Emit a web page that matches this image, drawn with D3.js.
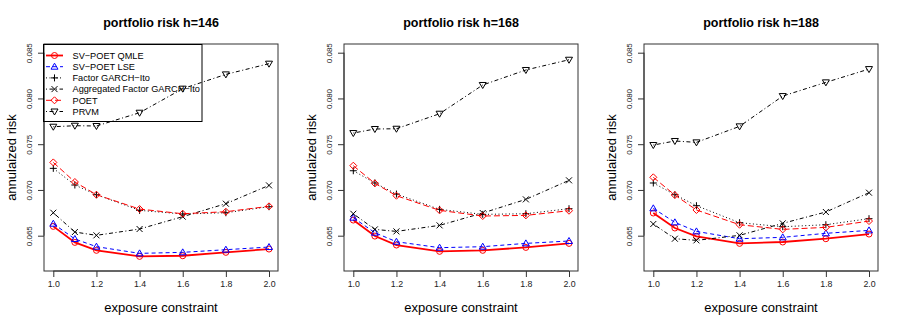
<!DOCTYPE html>
<html>
<head>
<meta charset="utf-8">
<script src="https://cdn.jsdelivr.net/npm/d3@7"></script>
<style>
  body { margin: 0; background: #fff; }
  svg { font-family: "Liberation Sans", Arial, sans-serif; }
</style>
</head>
<body>
<script>
// exposure constraint values on the x axis
var xVals = [1.0, 1.1, 1.2, 1.4, 1.6, 1.8, 2.0];
var xTicks = [1.0, 1.2, 1.4, 1.6, 1.8, 2.0];
var yTicks = [0.065, 0.070, 0.075, 0.080, 0.085];
var horizons = [146, 168, 188];

// one row per panel (h=146, h=168, h=188)
var svQmle = [
    [0.06602, 0.06427, 0.06340, 0.06274, 0.06281, 0.06318, 0.06354],
    [0.06671, 0.06496, 0.06398, 0.06329, 0.06340, 0.06372, 0.06416],
    [0.06748, 0.06584, 0.06493, 0.06416, 0.06431, 0.06467, 0.06518]
];
var svLse = [
    [0.06631, 0.06464, 0.06380, 0.06307, 0.06318, 0.06347, 0.06376],
    [0.06697, 0.06533, 0.06434, 0.06369, 0.06380, 0.06416, 0.06442],
    [0.06799, 0.06646, 0.06547, 0.06467, 0.06482, 0.06526, 0.06558]
];
var factorGarch = [
    [0.07236, 0.07054, 0.06948, 0.06777, 0.06737, 0.06751, 0.06817],
    [0.07210, 0.07076, 0.06955, 0.06788, 0.06733, 0.06740, 0.06795],
    [0.07076, 0.06948, 0.06828, 0.06642, 0.06598, 0.06620, 0.06686]
];
var aggFactorGarch = [
    [0.06751, 0.06540, 0.06504, 0.06573, 0.06708, 0.06850, 0.07050],
    [0.06740, 0.06569, 0.06547, 0.06613, 0.06748, 0.06897, 0.07105],
    [0.06628, 0.06467, 0.06449, 0.06504, 0.06635, 0.06759, 0.06970]
];
var poet = [
    [0.07301, 0.07087, 0.06948, 0.06791, 0.06740, 0.06762, 0.06821],
    [0.07265, 0.07072, 0.06937, 0.06777, 0.06715, 0.06722, 0.06773],
    [0.07138, 0.06944, 0.06781, 0.06620, 0.06569, 0.06591, 0.06660]
];
var prvm = [
    [0.07691, 0.07702, 0.07699, 0.07844, 0.08107, 0.08263, 0.08380],
    [0.07622, 0.07666, 0.07669, 0.07833, 0.08147, 0.08311, 0.08423],
    [0.07491, 0.07535, 0.07520, 0.07695, 0.08026, 0.08176, 0.08321]
];

var seriesNames = ["SV\u2212POET QMLE", "SV\u2212POET LSE", "Factor GARCH\u2212Ito",
    "Aggregated Factor GARCH\u2212Ito", "POET", "PRVM"];

// drawing styles for each series
var styles = [
    { data: svQmle, color: "#ff0000", width: 1.8, dash: null, pch: "circle" },
    { data: svLse, color: "#0000ff", width: 1, dash: "4,3", pch: "triUp" },
    { data: factorGarch, color: "#000", width: 1, dash: "1,2.5", pch: "plus" },
    { data: aggFactorGarch, color: "#000", width: 1, dash: "1,2.5,4,2.5", pch: "times" },
    { data: poet, color: "#ff0000", width: 1, dash: "6,3", pch: "diamond" },
    { data: prvm, color: "#000", width: 1, dash: "1,2.5,4,2.5", pch: "triDown" }
];

// R-like plotting symbols
function markerPath(pch) {
    var r = 3;
    switch (pch) {
        case "circle":
            return "M" + r + ",0A" + r + "," + r + " 0 1,1 " + (-r) + ",0A" + r + "," + r + " 0 1,1 " + r + ",0Z";
        case "triUp":
            return "M0," + (-r - 0.5) + "L" + (r + 0.5) + "," + (r - 0.5) + "L" + (-r - 0.5) + "," + (r - 0.5) + "Z";
        case "triDown":
            return "M0," + (r + 0.5) + "L" + (r + 0.5) + "," + (-r + 0.5) + "L" + (-r - 0.5) + "," + (-r + 0.5) + "Z";
        case "plus":
            return "M" + (-r - 0.5) + ",0H" + (r + 0.5) + "M0," + (-r - 0.5) + "V" + (r + 0.5);
        case "times":
            return "M" + (-r) + "," + (-r) + "L" + r + "," + r + "M" + (-r) + "," + r + "L" + r + "," + (-r);
        case "diamond":
            return "M0," + (-r - 0.5) + "L" + (r + 0.5) + ",0L0," + (r + 0.5) + "L" + (-r - 0.5) + ",0Z";
    }
}

var width = 900, height = 327;
var svg = d3.select("body").append("svg")
    .attr("width", width)
    .attr("height", height);

var box = { left: 44, right: 278, top: 44, bottom: 271 };

var x = d3.scaleLinear().domain([1.0, 2.0]).range([53.3, 269]);
var y = d3.scaleLinear().domain([0.065, 0.085]).range([235.7, 52.7]);

var line = d3.line()
    .x(function (d, i) { return x(xVals[i]); })
    .y(function (d) { return y(d); });

horizons.forEach(function (h, p) {
    var g = svg.append("g").attr("transform", "translate(" + (p * 300) + ",0)");

    //title
    g.append("text")
        .attr("x", (box.left + box.right) / 2)
        .attr("y", 27)
        .attr("text-anchor", "middle")
        .attr("font-size", 12.5)
        .attr("font-weight", "bold")
        .text("portfolio risk h=" + h);

    //plot box
    g.append("rect")
        .attr("x", box.left)
        .attr("y", box.top)
        .attr("width", box.right - box.left)
        .attr("height", box.bottom - box.top)
        .attr("fill", "none")
        .attr("stroke", "#333");

    //x axis
    var xAxis = g.append("g")
        .attr("transform", "translate(0," + box.bottom + ")")
        .call(d3.axisBottom(x).tickValues(xTicks).tickFormat(d3.format(".1f")).tickSize(6).tickPadding(4));
    xAxis.select(".domain").attr("d", "M" + x(1.0) + ",0H" + x(2.0)).attr("stroke", "#333");
    xAxis.selectAll(".tick line").attr("stroke", "#333");
    xAxis.selectAll("text").attr("font-size", 8.8).attr("fill", "#222")
        .attr("font-family", "Liberation Sans, Arial, sans-serif");

    //y axis with labels parallel to the axis
    var yAxis = g.append("g")
        .attr("transform", "translate(" + box.left + ",0)")
        .call(d3.axisLeft(y).tickValues(yTicks).tickFormat(d3.format(".3f")).tickSize(6));
    yAxis.select(".domain").attr("d", "M0," + y(0.065) + "V" + y(0.085)).attr("stroke", "#333");
    yAxis.selectAll(".tick line").attr("stroke", "#333");
    yAxis.selectAll("text")
        .attr("x", null).attr("dy", null)
        .attr("transform", "translate(-12,0) rotate(-90)")
        .attr("text-anchor", "middle")
        .attr("font-size", 8)
        .attr("fill", "#222")
        .attr("font-family", "Liberation Sans, Arial, sans-serif");

    //axis titles
    g.append("text")
        .attr("transform", "translate(16," + ((box.top + box.bottom) / 2) + ") rotate(-90)")
        .attr("text-anchor", "middle")
        .attr("font-size", 13)
        .text("annulaized risk");
    g.append("text")
        .attr("x", (box.left + box.right) / 2)
        .attr("y", 312)
        .attr("text-anchor", "middle")
        .attr("font-size", 13)
        .text("exposure constraint");

    //legend only in the first panel
    if (p === 0) {
        var lg = g.append("g");
        lg.append("rect")
            .attr("x", 43.5).attr("y", 44.5)
            .attr("width", 158.5).attr("height", 77)
            .attr("fill", "none").attr("stroke", "#000");
        styles.forEach(function (s, i) {
            var ly = 55.5 + i * 11.2;
            lg.append("line")
                .attr("x1", 46).attr("x2", 63)
                .attr("y1", ly).attr("y2", ly)
                .attr("stroke", s.color)
                .attr("stroke-width", s.width)
                .attr("stroke-dasharray", s.dash);
            lg.append("path")
                .attr("d", markerPath(s.pch))
                .attr("transform", "translate(54.5," + ly + ")")
                .attr("fill", "none")
                .attr("stroke", s.color);
            lg.append("text")
                .attr("x", 72.5).attr("y", ly + 3.3)
                .attr("font-size", 9.2)
                .text(seriesNames[i]);
        });
    }

    //series lines and markers
    styles.forEach(function (s) {
        var vals = s.data[p];
        g.append("path")
            .datum(vals)
            .attr("d", line)
            .attr("fill", "none")
            .attr("stroke", s.color)
            .attr("stroke-width", s.width)
            .attr("stroke-dasharray", s.dash);
        g.selectAll(null)
            .data(vals)
            .enter()
            .append("path")
            .attr("d", markerPath(s.pch))
            .attr("transform", function (d, i) { return "translate(" + x(xVals[i]) + "," + y(d) + ")"; })
            .attr("fill", "none")
            .attr("stroke", s.color)
            .attr("stroke-width", 1);
    });
});
</script>
</body>
</html>
